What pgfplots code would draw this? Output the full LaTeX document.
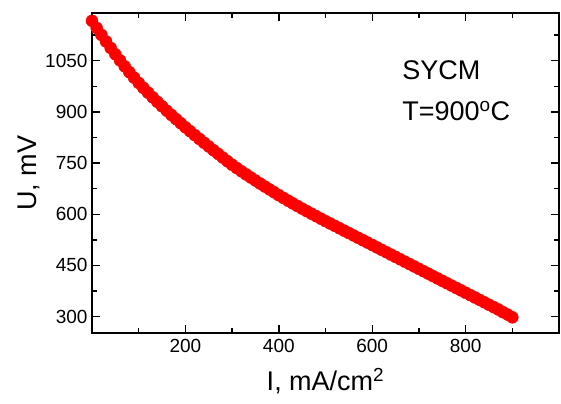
\documentclass[border=0pt]{standalone}
\usepackage{fontspec}
\setmainfont{Liberation Sans}
\usepackage{pgfplots}
\pgfplotsset{compat=1.18}
\begin{document}
\begin{tikzpicture}
\begin{axis}[
  scale only axis,
  width=467pt, height=320pt,
  xmin=0, xmax=1000, ymin=252, ymax=1190,
  xtick={200,400,600,800},
  ytick={300,450,600,750,900,1050},
  minor xtick={100,300,500,700,900},
  minor ytick={375,525,675,825,975,1125},
  tick align=inside,
  major tick length=8pt, minor tick length=5pt,
  every tick/.style={black, line width=1.4pt},
  axis line style={line width=1.6pt},
  /pgf/number format/assume math mode=true,
  /pgf/number format/1000 sep={},
  tick label style={font=\fontsize{19}{21}\selectfont},
  xticklabel style={yshift=-3pt},
  yticklabel style={xshift=-1pt},
  xlabel={I, mA/cm\textsuperscript{2}},
  ylabel={U, mV},
  label style={font=\fontsize{27}{30}\selectfont},
  xlabel style={yshift=-8pt},
  ylabel style={yshift=-2pt},
  clip=true,
]
\addplot[only marks, mark=*, mark size=6pt, color=red, mark options={fill=red, draw=red}] coordinates {
(0,1167) (10,1146) (20,1126) (30,1106.5) (40,1087.5) (50,1069) (60,1051) (70,1033.5) (80,1016.5) (90,1000.5)
(100,985) (110,970.5) (120,956.5) (130,942.8) (140,929.4) (150,916.4) (160,903.6) (170,891.1) (180,878.9) (190,866.9)
(200,855) (210,843.4) (220,832) (230,820.8) (240,809.7) (250,798.7) (260,787.8) (270,777) (280,766.3) (290,755.6)
(300,745) (310,735.4) (320,726) (330,716.8) (340,707.8) (350,698.9) (360,690.1) (370,681.4) (380,672.9) (390,664.4)
(400,656) (410,647.8) (420,639.8) (430,631.9) (440,624.2) (450,616.6) (460,609.1) (470,601.7) (480,594.4) (490,587.2)
(500,580) (510,573) (520,566) (530,559) (540,552) (550,545) (560,538) (570,531) (580,524) (590,517)
(600,510) (610,503) (620,496) (630,489) (640,482) (650,475) (660,468) (670,461) (680,454) (690,447)
(700,440) (710,433) (720,426) (730,419) (740,412) (750,405) (760,398) (770,391) (780,384) (790,377)
(800,370) (810,363) (820,356) (830,349) (840,342) (850,335) (860,328) (870,321) (880,313) (890,306)
(900,298)
};
\node[anchor=base west, font=\fontsize{27}{30}\selectfont, inner sep=0pt] at (axis cs:664,995) {SYCM};
\node[anchor=base west, font=\fontsize{27}{30}\selectfont, inner sep=0pt] at (axis cs:664,875) {T=900\textsuperscript{o}C};
\end{axis}
\path (current axis.south west) ++(-92pt,-70pt) coordinate (bl);
\path (current axis.north east) ++(2pt,13pt) coordinate (tr);
\useasboundingbox (bl) rectangle (tr);
\end{tikzpicture}
\end{document}
